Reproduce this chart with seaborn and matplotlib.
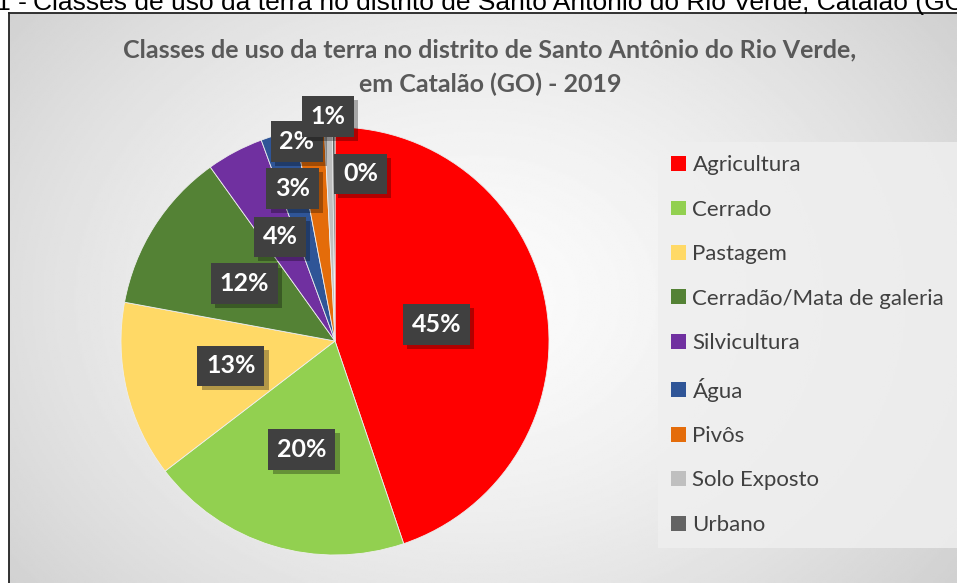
import numpy as np
import seaborn as sns
import matplotlib.pyplot as plt
from matplotlib.patches import Patch
from matplotlib import patheffects as pe

# data
classes = ["Agricultura", "Cerrado", "Pastagem", "Cerradão/Mata de galeria",
           "Silvicultura", "Água", "Pivôs", "Solo Exposto", "Urbano"]
shares = [44.8, 19.8, 13.3, 12.2, 4.3, 2.6, 2.2, 0.6, 0.2]
colors = ["#FF0000", "#92D050", "#FFD966", "#548235", "#7030A0",
          "#2F5597", "#E46C0A", "#BFBFBF", "#636363"]

# label placement (radius fraction, angle shift in degrees) - styling only
label_r = [0.48, 0.53, 0.50, 0.50, 0.55, 0.74, 0.95, 1.05, 0.79]
label_shift = [0, 0, 0, 0, 0, 0, -4, 0, 9]

W, H = 957, 583
sns.set_theme(style="white")
plt.rcParams["font.family"] = ["Lato", "DejaVu Sans"]

fig = plt.figure(figsize=(W / 100, H / 100), dpi=100)
fig.patch.set_facecolor("white")


def fx(px):
    return px / W


def fy(py):
    return 1 - py / H


# chart area background (radial gradient) with border
bg = fig.add_axes([fx(9), 0, 1 - fx(9), fy(13)])
yy, xx = np.mgrid[0:300, 0:500]
cx, cy = 245, 150
d = np.sqrt(((xx - cx) / 320) ** 2 + ((yy - cy) / 250) ** 2)
d = np.clip(d, 0, 1)
shade = 0.985 - 0.17 * d ** 1.5
bg.imshow(shade, cmap="gray", vmin=0, vmax=1, aspect="auto", extent=[0, 1, 0, 1])
bg.set_xticks([])
bg.set_yticks([])
for s in ["right", "bottom"]:
    bg.spines[s].set_visible(False)
for s in ["left", "top"]:
    bg.spines[s].set_color("#222222")
    bg.spines[s].set_linewidth(1.3)

# caption above the chart (cropped in the reference)
fig.text(fx(27), fy(10), "Figura 1 -", ha="right", va="baseline", fontsize=19,
         family="Liberation Sans", color="black")
fig.text(fx(33), fy(10), "Classes de uso da terra no distrito de Santo Antônio do Rio Verde, Catalão (GO)",
         ha="left", va="baseline", fontsize=19, family="Liberation Sans", color="black")

# title
fig.text(fx(490), fy(50), "Classes de uso da terra no distrito de Santo Antônio do Rio Verde,",
         ha="center", va="center", fontsize=18, fontweight="bold", color="#595959")
fig.text(fx(490), fy(84), "em Catalão (GO) - 2019",
         ha="center", va="center", fontsize=18, fontweight="bold", color="#595959")

# pie
cxp, cyp, rad = 335, 341, 214
ax = fig.add_axes([fx(cxp - rad), fy(cyp + rad), fx(2 * rad), (2 * rad) / H])
ax.set_facecolor("none")
wedges, _ = ax.pie(shares, colors=colors, startangle=90, counterclock=False,
                   wedgeprops=dict(edgecolor="#eeeeee", linewidth=0.6))
ax.set_xlim(-1, 1)
ax.set_ylim(-1, 1)
ax.axis("off")

total = sum(shares)
cum = np.cumsum([0] + shares[:-1])
for i, v in enumerate(shares):
    mid = (cum[i] + v / 2) / total * 360 + label_shift[i]
    ang = np.deg2rad(90 - mid)
    x, y = label_r[i] * np.cos(ang), label_r[i] * np.sin(ang)
    t = ax.text(x, y, f"{round(v):d}%", ha="center", va="center", fontsize=18,
                fontweight="bold", color="white", zorder=5,
                bbox=dict(boxstyle="square,pad=0.35", facecolor="#404040",
                          edgecolor="none", linewidth=0))
    t.get_bbox_patch().set_path_effects([
        pe.SimplePatchShadow(offset=(3, -3), shadow_rgbFace="black", alpha=0.3),
        pe.Normal()])
    if classes[i] == "Urbano":
        mid0 = (cum[i] + v / 2) / total * 360
        a0 = np.deg2rad(90 - mid0)
        ax.plot([0.86 * np.cos(a0), x - 0.1], [0.86 * np.sin(a0), 0.86 * np.sin(a0)],
                color="#7f7f7f", lw=1, zorder=4)

# legend
handles = [Patch(facecolor=c, edgecolor="none") for c in colors]
leg = fig.legend(handles, classes, loc="upper left", bbox_to_anchor=(fx(658), fy(142)),
                 frameon=True, fontsize=16, labelspacing=1.1, handlelength=0.65,
                 handleheight=0.65, handletextpad=0.3, borderpad=0.6, borderaxespad=0)
leg.get_frame().set_facecolor("#efefef")
leg.get_frame().set_edgecolor("none")
leg.get_frame().set_alpha(0.85)
leg.get_frame().set_boxstyle("square", pad=0)
for txt in leg.get_texts():
    txt.set_color("#404040")

fig.savefig("out.png", dpi=100)
